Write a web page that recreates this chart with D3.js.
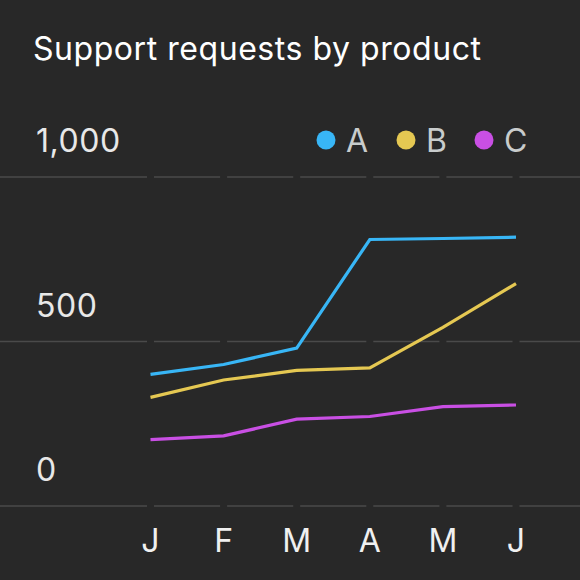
<!DOCTYPE html>
<html><head><meta charset="utf-8">
<script src="https://cdn.jsdelivr.net/npm/d3@7"></script>
<style>
html,body{margin:0;padding:0;background:#282828;}
svg{display:block;font-family:Inter,"Noto Sans",sans-serif;}
</style></head>
<body>
<svg id="c" width="580" height="580"></svg>
<script>
const title = "Support requests by product";
const months = ["J","F","M","A","M","J"];
const seriesNames = ["A","B","C"];
const seriesColors = ["#38b6f6","#e5c852","#c94fe4"];
const valuesA = [400, 430, 480, 810, 813, 817];
const valuesB = [330, 383, 412, 420, 543, 676];
const valuesC = [202, 213, 264, 272, 302, 307];
const yTicks = [0, 500, 1000];

const series = [valuesA, valuesB, valuesC];
const svg = d3.select("#c");
const W = 580, H = 580, bg = "#282828";
const FS = 32, LS = 0.55;
svg.append("rect").attr("width",W).attr("height",H).attr("fill",bg);

const idx = months.map((m,i)=>i);
const x = d3.scalePoint().domain(idx).range([150.5, 516]);
const y = d3.scaleLinear().domain([0,1000]).range([506, 177]);

svg.append("text").attr("x",33).attr("y",60).attr("fill","#ffffff")
  .attr("font-size",FS).attr("letter-spacing",LS).text(title);

// gridlines broken at each x position
const gapHalf = 3.5;
const xs = idx.map(i=>x(i));
const bounds = [0, ...xs, W];
const segs = [];
for (let k=0;k<bounds.length-1;k++){
  const a = k===0 ? 0 : bounds[k]+gapHalf;
  const b = k===bounds.length-2 ? W : bounds[k+1]-gapHalf;
  segs.push([a,b]);
}
const grid = svg.append("g");
yTicks.forEach(t=>{
  grid.selectAll(null).data(segs).enter().append("line")
    .attr("x1",d=>d[0]).attr("x2",d=>d[1])
    .attr("y1",y(t)).attr("y2",y(t))
    .attr("stroke","#4a4a4a").attr("stroke-width",1.5);
});

// y tick labels above gridlines
const fmt = d3.format(",");
svg.append("g").selectAll("text").data(yTicks).enter().append("text")
  .attr("x",36).attr("y",d=>y(d)-25)
  .attr("fill","#e8e8e8").attr("font-size",FS).attr("letter-spacing",LS).text(d=>fmt(d));

// x labels
svg.append("g").selectAll("text").data(idx).enter().append("text")
  .attr("x",d=>x(d)).attr("y",552).attr("text-anchor","middle")
  .attr("fill","#f0f0f0").attr("font-size",FS).text(d=>months[d]);

// lines
const line = d3.line().x((d,i)=>x(i)).y(d=>y(d));
series.forEach((s,k)=>{
  svg.append("path").datum(s).attr("d",line).attr("fill","none")
    .attr("stroke",seriesColors[k]).attr("stroke-width",3.2)
    .attr("stroke-linejoin","miter");
});

// legend
const legX = [326, 406, 484];
const lg = svg.append("g");
seriesNames.forEach((n,k)=>{
  lg.append("circle").attr("cx",legX[k]).attr("cy",140).attr("r",9.5).attr("fill",seriesColors[k]);
  lg.append("text").attr("x",legX[k]+20).attr("y",152).attr("fill","#c8cccc")
    .attr("font-size",FS).text(n);
});
</script>
</body></html>
